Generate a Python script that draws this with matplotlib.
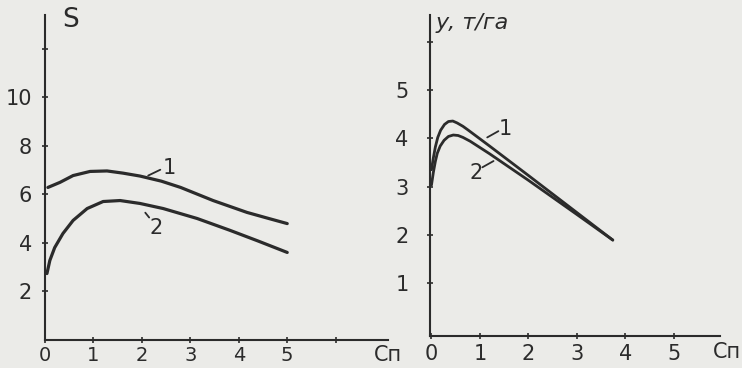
import matplotlib
matplotlib.use("Agg")
import matplotlib.pyplot as plt

# ---- data ----
left_x1 = [0.06, 0.31, 0.58, 0.93, 1.28, 1.61, 1.96, 2.4, 2.8, 3.47, 4.17, 4.6, 5.0]
left_s1 = [6.29, 6.5, 6.78, 6.95, 6.97, 6.88, 6.76, 6.55, 6.29, 5.75, 5.26, 5.02, 4.80]
left_x2 = [0.04, 0.1, 0.2, 0.37, 0.58, 0.87, 1.2, 1.55, 1.96, 2.44, 3.14, 3.82, 4.4, 5.0]
left_s2 = [2.74, 3.28, 3.81, 4.39, 4.93, 5.42, 5.71, 5.75, 5.63, 5.42, 5.01, 4.52, 4.08, 3.61]

right_x1 = [0.0, 0.04, 0.08, 0.13, 0.19, 0.27, 0.35, 0.44, 0.53, 0.65, 0.76, 1.2, 2.0, 3.0, 3.74]
right_y1 = [3.35, 3.6, 3.82, 4.02, 4.17, 4.29, 4.35, 4.36, 4.32, 4.25, 4.17, 3.84, 3.23, 2.46, 1.89]
right_x2 = [0.0, 0.04, 0.08, 0.12, 0.18, 0.26, 0.35, 0.45, 0.55, 0.65, 0.8, 1.2, 2.0, 3.0, 3.74]
right_y2 = [3.03, 3.3, 3.52, 3.69, 3.84, 3.96, 4.04, 4.07, 4.06, 4.02, 3.94, 3.68, 3.13, 2.42, 1.89]

left_xticks = [0, 1, 2, 3, 4, 5, 6]
left_xlabels = ["0", "1", "2", "3", "4", "5", ""]
left_yticks = [2, 4, 6, 8, 10, 12]
left_ylabels = ["2", "4", "6", "8", "10", ""]
right_xticks = [0, 1, 2, 3, 4, 5]
right_xlabels = ["0", "1", "2", "3", "4", "5"]
right_yticks = [1, 2, 3, 4, 5, 6]
right_ylabels = ["1", "2", "3", "4", "5", ""]

left_ylabel = "S"
right_ylabel = "у, т/га"
xlabel = "Сп"
curve_names = ["1", "2"]

ink = "#2b2b2b"
paper = "#ebebe8"

plt.rcParams["font.family"] = ["DejaVu Sans"]

fig = plt.figure(figsize=(7.42, 3.68), dpi=100, facecolor=paper)

W, H = 742, 368
def rect(x0, x1, ytop, ybot):
    return [x0 / W, (H - ybot) / H, (x1 - x0) / W, (ybot - ytop) / H]

axL = fig.add_axes(rect(45, 388, 15, 340))
axR = fig.add_axes(rect(430, 720, 15, 336))

for ax in (axL, axR):
    ax.set_facecolor("none")
    for s in ("top", "right"):
        ax.spines[s].set_visible(False)
    for s in ("left", "bottom"):
        ax.spines[s].set_color(ink)
        ax.spines[s].set_linewidth(1.5)
    ax.tick_params(direction="inout", length=5, width=1.2, color=ink,
                   labelcolor=ink, labelsize=15)

def leader(ax, p0, p1, label, pos):
    ax.annotate("", xy=p0, xytext=p1,
                arrowprops=dict(arrowstyle="-", color=ink, lw=1.3,
                                shrinkA=0, shrinkB=0))
    ax.text(pos[0], pos[1], label, fontsize=15, color=ink,
            ha="center", va="center")

# ---- left panel ----
axL.plot(left_x1, left_s1, color=ink, lw=2.3, solid_capstyle="round")
axL.plot(left_x2, left_s2, color=ink, lw=2.3, solid_capstyle="round")
axL.set_xlim(0, 7.08)
axL.set_ylim(0, 13.4)
axL.set_xticks(left_xticks, left_xlabels)
axL.set_yticks(left_yticks, left_ylabels)
axL.tick_params(axis="x", pad=2, labelsize=14)
axL.tick_params(axis="y", pad=7)
axL.text(0.05, 0.985, left_ylabel, transform=axL.transAxes, fontsize=19,
         color=ink, ha="left", va="center")
axL.text(1.0, -0.045, xlabel, transform=axL.transAxes, fontsize=15,
         color=ink, ha="center", va="center")
leader(axL, (2.13, 6.78), (2.38, 7.02), curve_names[0], (2.56, 7.1))
leader(axL, (2.07, 5.25), (2.15, 5.05), curve_names[1], (2.29, 4.62))

# ---- right panel ----
axR.plot(right_x1, right_y1, color=ink, lw=2.0, solid_capstyle="round")
axR.plot(right_x2, right_y2, color=ink, lw=2.0, solid_capstyle="round")
axR.set_xlim(-0.03, 5.95)
axR.set_ylim(-0.1, 6.56)
axR.set_xticks(right_xticks, right_xlabels)
axR.set_yticks(right_yticks, right_ylabels)
axR.tick_params(axis="x", pad=3)
axR.tick_params(axis="y", pad=13)
axR.text(0.02, 0.975, right_ylabel, transform=axR.transAxes, fontsize=16,
         color=ink, ha="left", va="center", style="italic")
fig.text(741 / W, (H - 352) / H, xlabel, fontsize=15,
         color=ink, ha="right", va="center")
leader(axR, (1.15, 4.02), (1.38, 4.15), curve_names[0], (1.52, 4.2))
leader(axR, (1.05, 3.4), (1.28, 3.53), curve_names[1], (0.93, 3.28))

fig.savefig("out.png", dpi=100, facecolor=paper)
